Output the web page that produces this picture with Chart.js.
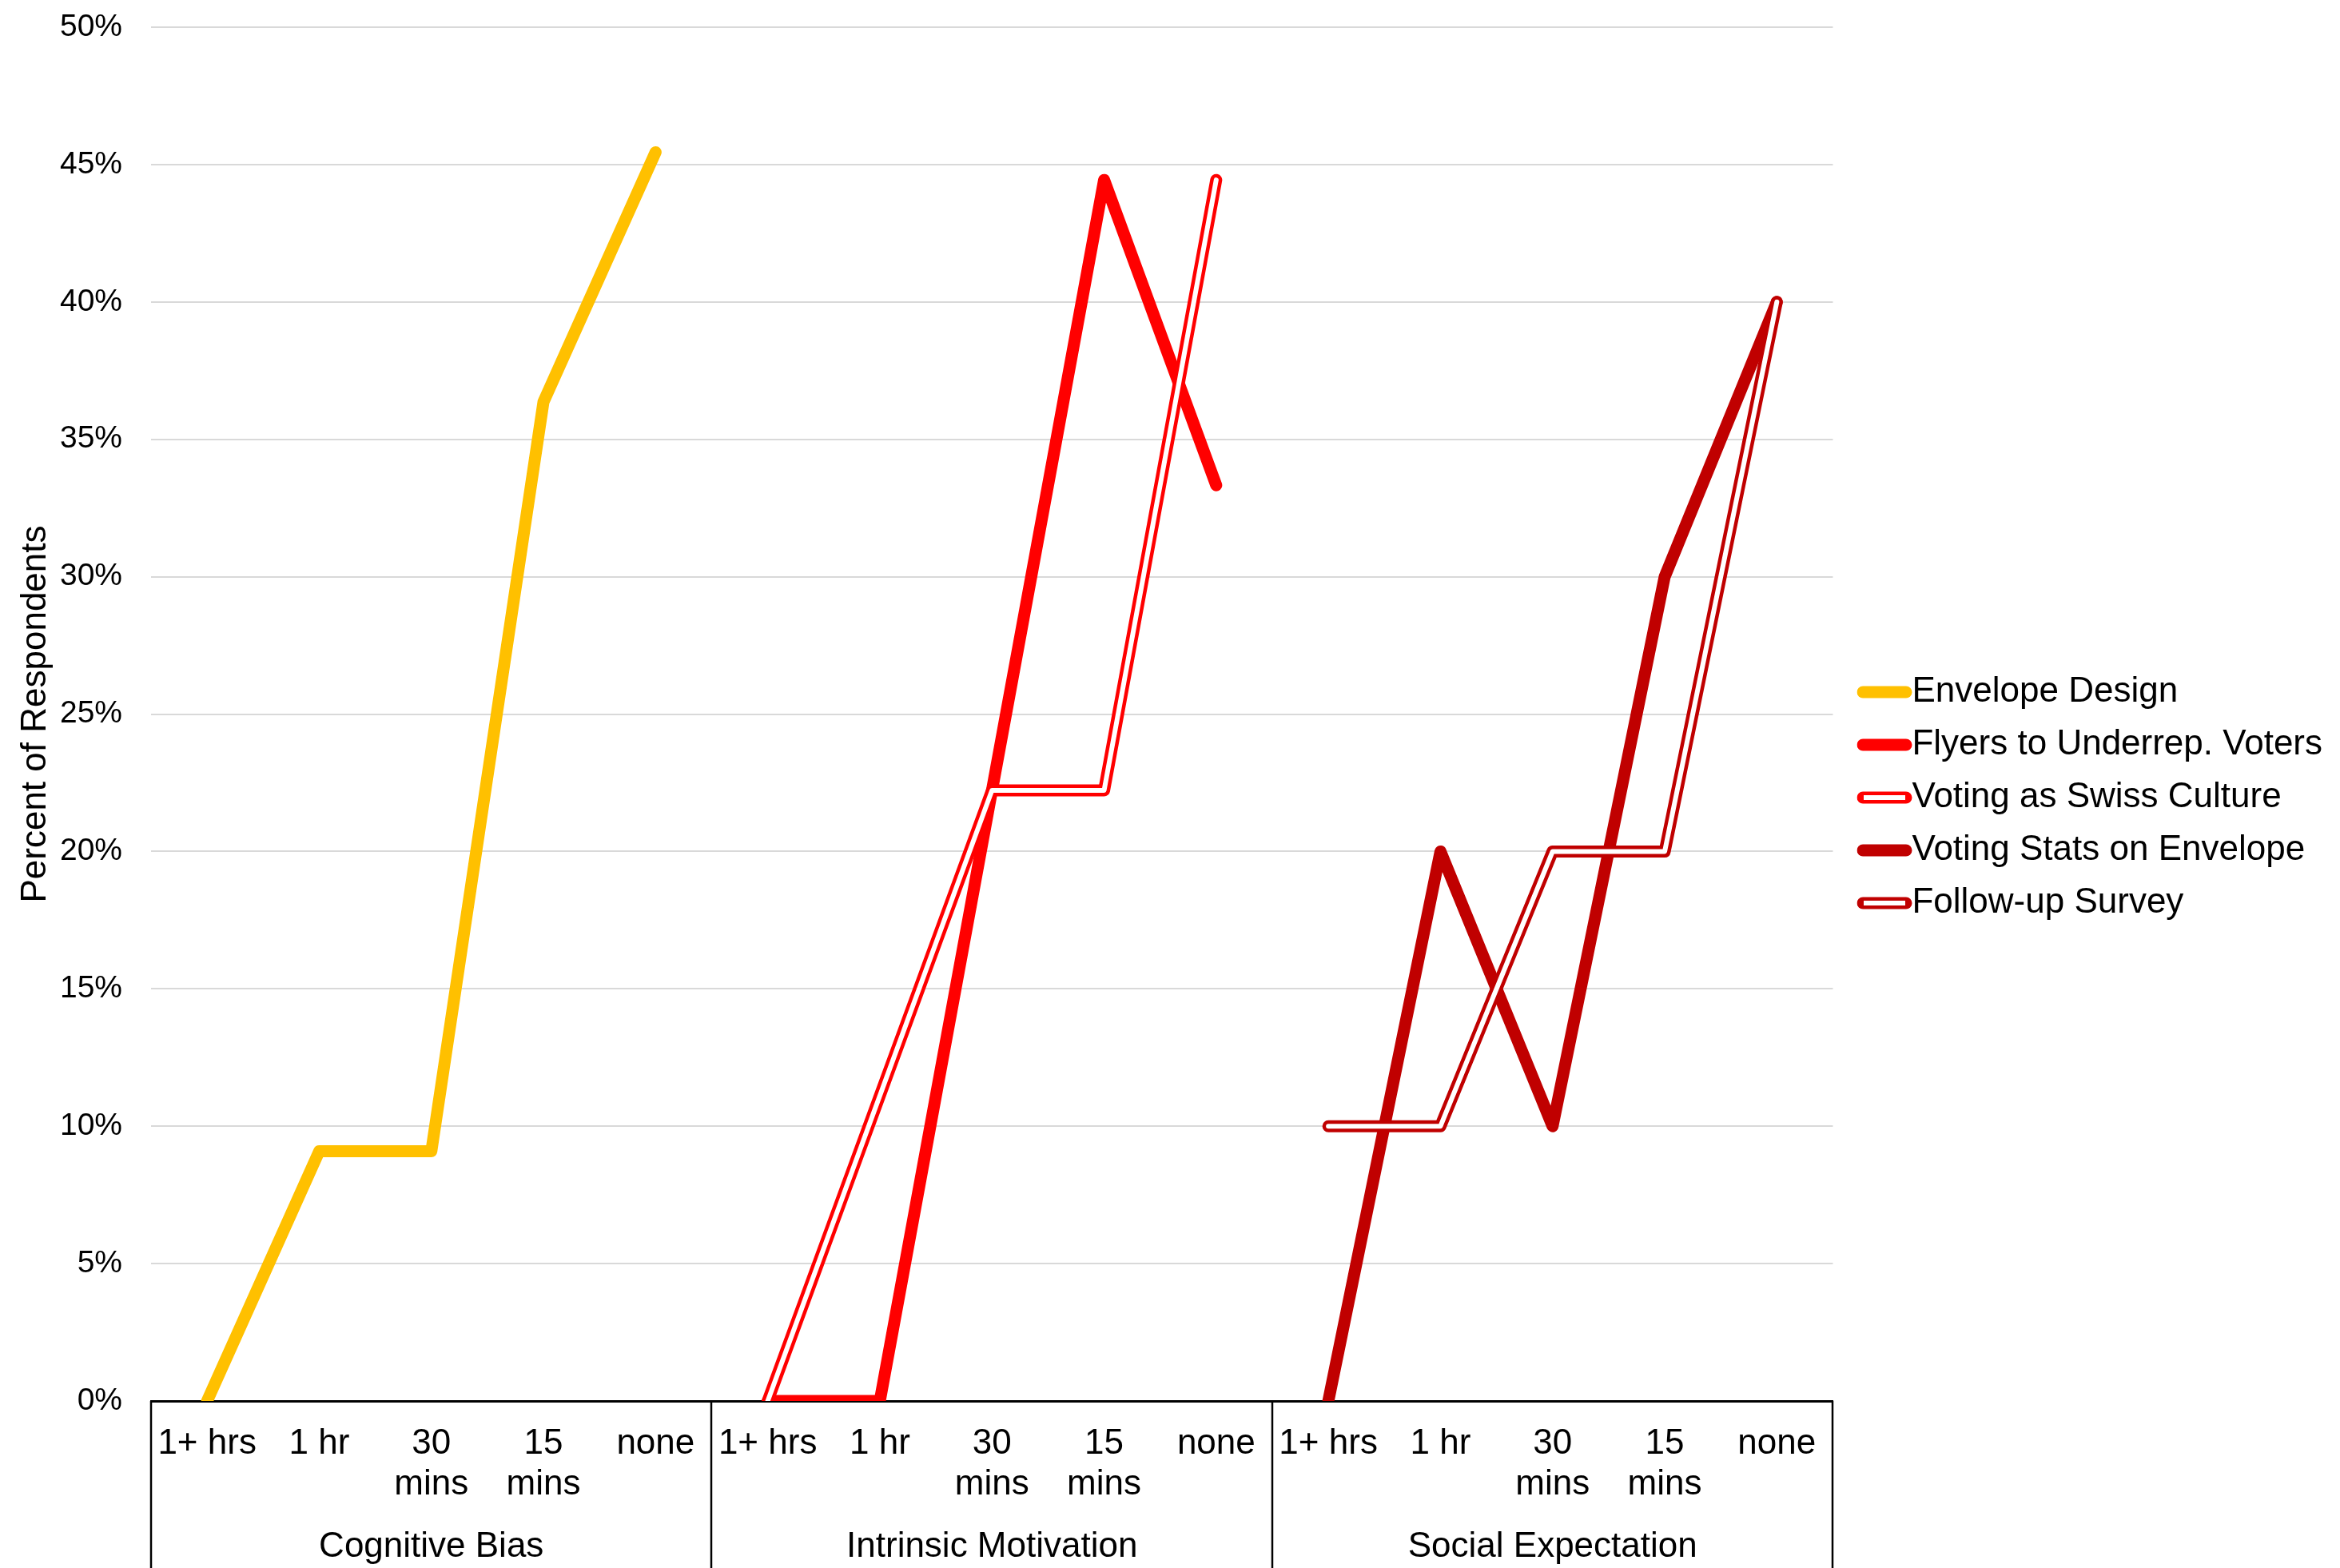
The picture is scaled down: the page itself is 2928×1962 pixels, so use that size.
<!DOCTYPE html>
<html>
<head>
<meta charset="utf-8">
<title>Percent of Respondents by reminder timing</title>
<script src="https://cdn.jsdelivr.net/npm/chart.js@4.4.1/dist/chart.umd.min.js"></script>
<style>
  html, body { margin: 0; padding: 0; background: #ffffff; }
  #wrap { width: 2928px; height: 1962px; }
</style>
</head>
<body>
<div id="wrap"><canvas id="chart" width="2928" height="1962"></canvas></div>
<script>
// Category axis: five timing buckets repeated for each motivation group
const timeLabels = [['1+ hrs'], ['1 hr'], ['30', 'mins'], ['15', 'mins'], ['none']];
const groups = ['Cognitive Bias', 'Intrinsic Motivation', 'Social Expectation'];
const categories = [
  ['1+ hrs'], ['1 hr'], ['30', 'mins'], ['15', 'mins'], ['none'],
  ['1+ hrs'], ['1 hr'], ['30', 'mins'], ['15', 'mins'], ['none'],
  ['1+ hrs'], ['1 hr'], ['30', 'mins'], ['15', 'mins'], ['none']
];

// Percent of respondents per treatment (null = treatment not in that group)
const envelopeDesign   = [0, 9.09, 9.09, 36.36, 45.45, null, null, null, null, null, null, null, null, null, null];
const flyersUnderrep   = [null, null, null, null, null, 0, 0, 22.22, 44.44, 33.33, null, null, null, null, null];
const swissCulture     = [null, null, null, null, null, 0, 11.11, 22.22, 22.22, 44.44, null, null, null, null, null];
const votingStats      = [null, null, null, null, null, null, null, null, null, null, 0, 20, 10, 30, 40];
const followUpSurvey   = [null, null, null, null, null, null, null, null, null, null, 10, 10, 20, 20, 40];

const yTicks = [0, 5, 10, 15, 20, 25, 30, 35, 40, 45, 50];

const FONT = '"Liberation Sans", Arial, sans-serif';
const GOLD = '#FFC000';
const RED = '#FF0000';
const DARK_RED = '#C00000';
const LINE_W = 15;
const OUTLINE_W = 15;
const CORE_W = 6;

// Legend markers: a short rounded stroke, optionally hollow
function makeMarker(color, hollow) {
  const c = document.createElement('canvas');
  c.width = 70; c.height = 18;
  const g = c.getContext('2d');
  g.lineCap = 'round';
  g.strokeStyle = color;
  g.lineWidth = 15;
  g.beginPath(); g.moveTo(8, 9); g.lineTo(62, 9); g.stroke();
  if (hollow) {
    g.lineCap = 'butt';
    g.strokeStyle = '#ffffff';
    g.lineWidth = 6;
    g.beginPath(); g.moveTo(9, 9); g.lineTo(61, 9); g.stroke();
  }
  return c;
}

const markers = {
  'Envelope Design': makeMarker(GOLD, false),
  'Flyers to Underrep. Voters': makeMarker(RED, false),
  'Voting as Swiss Culture': makeMarker(RED, true),
  'Voting Stats on Envelope': makeMarker(DARK_RED, false),
  'Follow-up Survey': makeMarker(DARK_RED, true)
};

const lineClip = { left: 20, top: 20, right: 20, bottom: 0 };

function solidSeries(label, data, color) {
  return {
    label, data,
    borderColor: color, backgroundColor: color,
    borderWidth: LINE_W, pointRadius: 0, pointHoverRadius: 0,
    borderCapStyle: 'round', borderJoinStyle: 'round',
    spanGaps: false, clip: lineClip, xAxisID: 'x', yAxisID: 'y'
  };
}

// Hollow (double) line: wide coloured stroke with a white core on top
function hollowSeries(label, data, color) {
  return [
    Object.assign(solidSeries(label, data, color), { borderWidth: OUTLINE_W }),
    Object.assign(solidSeries(label + '__core', data, '#ffffff'), { borderWidth: CORE_W })
  ];
}

const datasets = [
  solidSeries('Envelope Design', envelopeDesign, GOLD),
  solidSeries('Flyers to Underrep. Voters', flyersUnderrep, RED),
  ...hollowSeries('Voting as Swiss Culture', swissCulture, RED),
  solidSeries('Voting Stats on Envelope', votingStats, DARK_RED),
  ...hollowSeries('Follow-up Survey', followUpSurvey, DARK_RED)
];
// later series paint over earlier ones
datasets.forEach((d, i) => { d.order = datasets.length - i; });

// Boxes under the category axis separating the three groups
const groupDividers = {
  id: 'groupDividers',
  afterDraw(chart) {
    const xs = chart.scales.x;
    const area = chart.chartArea;
    const ctx = chart.ctx;
    const per = timeLabels.length;
    ctx.save();
    ctx.strokeStyle = '#000000';
    ctx.lineWidth = 2.5;
    for (let gi = 0; gi <= groups.length; gi++) {
      const px = Math.round(xs.getPixelForValue(gi * per - 0.5));
      ctx.beginPath();
      ctx.moveTo(px, area.bottom);
      ctx.lineTo(px, chart.height);
      ctx.stroke();
    }
    ctx.restore();
  }
};

new Chart(document.getElementById('chart'), {
  type: 'line',
  data: { labels: categories, datasets },
  plugins: [groupDividers],
  options: {
    responsive: false,
    animation: false,
    devicePixelRatio: 1,
    layout: { padding: { top: 34, left: 14, right: 12, bottom: 0 } },
    plugins: {
      tooltip: { enabled: false },
      legend: {
        position: 'right',
        align: 'center',
        maxWidth: 800,
        labels: {
          usePointStyle: true,
          pointStyleWidth: 25,
          boxHeight: 18,
          padding: 22,
          color: '#000000',
          font: { family: FONT, size: 44 },
          generateLabels(chart) {
            const items = Chart.defaults.plugins.legend.labels.generateLabels(chart);
            return items
              .filter(it => !it.text.endsWith('__core'))
              .sort((a, b) => a.datasetIndex - b.datasetIndex)
              .map(it => Object.assign(it, { pointStyle: markers[it.text], lineWidth: 0 }));
          }
        }
      }
    },
    scales: {
      x: {
        type: 'category',
        offset: true,
        position: 'bottom',
        grid: { display: false, drawTicks: false },
        border: { display: true, color: '#000000', width: 3 },
        ticks: {
          autoSkip: false, maxRotation: 0, minRotation: 0,
          padding: 28,
          color: '#000000',
          font: { family: FONT, size: 44, lineHeight: 1.16 }
        },
        afterFit(scale) { scale.height = 130; }
      },
      x2: {
        type: 'category',
        labels: groups,
        offset: true,
        position: 'bottom',
        grid: { display: false, drawTicks: false },
        border: { display: false },
        ticks: {
          autoSkip: false, maxRotation: 0, minRotation: 0,
          padding: 27,
          color: '#000000',
          font: { family: FONT, size: 44, lineHeight: 1.16 }
        },
        afterFit(scale) { scale.height = 79; }
      },
      y: {
        type: 'linear',
        min: 0, max: 50,
        afterBuildTicks(scale) { scale.ticks = yTicks.map(v => ({ value: v })); },
        grid: { color: '#d9d9d9', lineWidth: 2, drawTicks: false },
        border: { display: false },
        ticks: {
          padding: 36,
          color: '#000000',
          font: { family: FONT, size: 39 },
          callback: v => v + '%'
        },
        title: {
          display: true,
          text: 'Percent of Respondents',
          color: '#000000',
          font: { family: FONT, size: 44 },
          padding: { top: 4, bottom: 4 }
        },
        afterFit(scale) {
          scale.width = 175;
          scale.paddingTop = 0;
          scale.paddingBottom = 0;
        }
      },
      gap: {
        type: 'linear',
        position: 'right',
        display: true,
        grid: { display: false },
        border: { display: false },
        ticks: { display: false },
        afterFit(scale) { scale.width = 30; }
      }
    }
  }
});
</script>
</body>
</html>
